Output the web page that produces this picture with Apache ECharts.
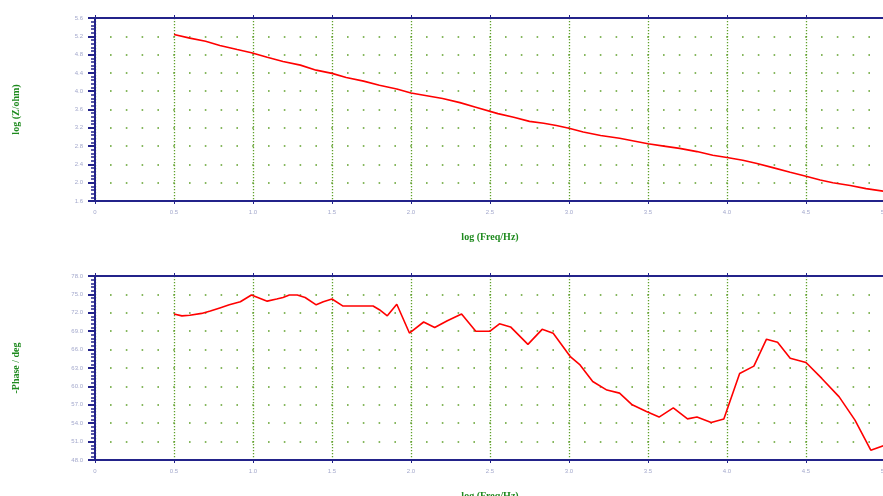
<!DOCTYPE html>
<html>
<head>
<meta charset="utf-8">
<script src="https://cdn.jsdelivr.net/npm/echarts@6/dist/echarts.min.js"></script>
<style>
  html, body { margin: 0; padding: 0; background: #fff; }
  #chart { width: 883px; height: 496px; }
</style>
</head>
<body>
<div id="chart"></div>
<script>
// Impedance magnitude: log frequency vs log |Z|
const logFreqZ = [0.50, 0.60, 0.70, 0.79, 0.90, 0.99, 1.09, 1.19, 1.30, 1.40, 1.50, 1.59, 1.70, 1.80, 1.91,
  2.00, 2.10, 2.20, 2.31, 2.41, 2.55, 2.65, 2.75, 2.84, 2.92, 3.00, 3.09, 3.20, 3.32, 3.41, 3.50, 3.60,
  3.70, 3.81, 3.91, 4.00, 4.10, 4.19, 4.29, 4.40, 4.50, 4.59, 4.67, 4.78, 4.88, 5.00];
const logZ = [5.24, 5.16, 5.09, 5.00, 4.91, 4.84, 4.74, 4.65, 4.57, 4.46, 4.39, 4.30, 4.22, 4.13, 4.05,
  3.96, 3.90, 3.84, 3.75, 3.65, 3.51, 3.43, 3.34, 3.30, 3.25, 3.19, 3.11, 3.03, 2.97, 2.91, 2.85, 2.80,
  2.75, 2.68, 2.60, 2.55, 2.49, 2.42, 2.33, 2.23, 2.14, 2.06, 2.00, 1.94, 1.87, 1.81];

// Phase angle: log frequency vs -phase
const logFreqPhase = [0.50, 0.55, 0.60, 0.675, 0.73, 0.79, 0.85, 0.92, 0.99, 1.03, 1.09, 1.15, 1.19, 1.23,
  1.28, 1.33, 1.40, 1.445, 1.50, 1.57, 1.76, 1.80, 1.85, 1.91, 1.99, 2.08, 2.15, 2.23, 2.32, 2.41, 2.50,
  2.56, 2.63, 2.74, 2.83, 2.90, 3.01, 3.07, 3.15, 3.24, 3.32, 3.40, 3.49, 3.57, 3.66, 3.75, 3.81, 3.90,
  3.98, 4.08, 4.17, 4.25, 4.32, 4.40, 4.50, 4.60, 4.71, 4.81, 4.91, 5.00];
const phase = [71.8, 71.5, 71.6, 71.9, 72.3, 72.8, 73.3, 73.8, 74.9, 74.5, 73.9, 74.25, 74.5, 74.9,
  74.9, 74.5, 73.3, 73.8, 74.25, 73.1, 73.1, 72.5, 71.5, 73.4, 68.7, 70.5, 69.6, 70.7, 71.8, 69.0, 69.0,
  70.2, 69.7, 66.85, 69.3, 68.65, 64.8, 63.5, 60.8, 59.4, 58.9, 57.0, 55.9, 55.0, 56.5, 54.7, 55.0, 54.1,
  54.7, 62.1, 63.3, 67.7, 67.2, 64.6, 63.9, 61.3, 58.3, 54.5, 49.6, 50.4];

// Axis ranges
const freqRange = { min: 0, max: 5, interval: 0.5 };
const zRange = { min: 1.6, max: 5.6, interval: 0.4 };
const phaseRange = { min: 48, max: 78, interval: 3 };

const NAVY = '#23238a';
const DOT = '#5fa02a';
const TITLE = '#1e8a1e';
const LABEL = '#a3a8cc';
const PLOT_W = 790;
const DOT_STEP = PLOT_W / 50; // one dot per 0.1 of log frequency

const titleFont = { color: TITLE, fontFamily: 'Liberation Serif', fontWeight: 'bold', fontSize: 10 };
const labelFont = { color: LABEL, fontFamily: 'Liberation Sans', fontSize: 6 };

function freqAxis(gridIndex, name) {
  return {
    type: 'value', gridIndex, ...freqRange,
    name, nameLocation: 'middle', nameGap: 31, nameTextStyle: titleFont,
    axisLine: { show: true, onZero: false, lineStyle: { color: NAVY, width: 2 } },
    axisTick: { show: true, length: 3, lineStyle: { color: NAVY, width: 1 } },
    axisLabel: { ...labelFont, margin: 8, formatter: v => v === 0 ? '0' : v.toFixed(1) },
    splitLine: { show: true, lineStyle: { color: DOT, width: 1.3, type: [1.3, 1.7] } }
  };
}
function topFrame(gridIndex) {
  return {
    type: 'value', gridIndex, position: 'top', ...freqRange,
    axisLine: { show: true, onZero: false, lineStyle: { color: NAVY, width: 2 } },
    axisTick: { show: true, length: 3, lineStyle: { color: NAVY, width: 1 } },
    axisLabel: { show: false }, splitLine: { show: false }
  };
}
function valueAxis(gridIndex, range, name, digits) {
  return {
    type: 'value', gridIndex, ...range,
    name, nameLocation: 'middle', nameRotate: 90, nameGap: 74, nameTextStyle: titleFont,
    axisLine: { show: true, onZero: false, lineStyle: { color: NAVY, width: 2 } },
    axisTick: { show: true, length: 7, lineStyle: { color: NAVY, width: 2 } },
    minorTick: { show: true, splitNumber: 5, length: 4, lineStyle: { color: NAVY, width: 1.5 } },
    axisLabel: { ...labelFont, margin: 12, formatter: v => v.toFixed(digits) },
    splitLine: { show: true, lineStyle: { color: DOT, width: 1.6, type: [1.6, DOT_STEP - 1.6], dashOffset: 0.8 } }
  };
}
function pairs(xs, ys) { return xs.map((x, i) => [x, ys[i]]); }

const chart = echarts.init(document.getElementById('chart'), null, { renderer: 'canvas' });
chart.setOption({
  animation: false,
  backgroundColor: '#ffffff',
  grid: [
    { left: 95, top: 18, width: PLOT_W, height: 183, outerBoundsMode: 'none', containLabel: false },
    { left: 95, top: 276, width: PLOT_W, height: 184, outerBoundsMode: 'none', containLabel: false }
  ],
  xAxis: [
    freqAxis(0, 'log (Freq/Hz)'), topFrame(0),
    freqAxis(1, 'log (Freq/Hz)'), topFrame(1)
  ],
  yAxis: [
    valueAxis(0, zRange, 'log (Z/ohm)', 1),
    valueAxis(1, phaseRange, '-Phase / deg', 1)
  ],
  series: [
    { type: 'line', xAxisIndex: 0, yAxisIndex: 0, data: pairs(logFreqZ, logZ), symbol: 'none',
      lineStyle: { color: '#ff0000', width: 1.6 } },
    { type: 'line', xAxisIndex: 2, yAxisIndex: 1, data: pairs(logFreqPhase, phase), symbol: 'none',
      lineStyle: { color: '#ff0000', width: 1.6 } }
  ]
});
</script>
</body>
</html>
